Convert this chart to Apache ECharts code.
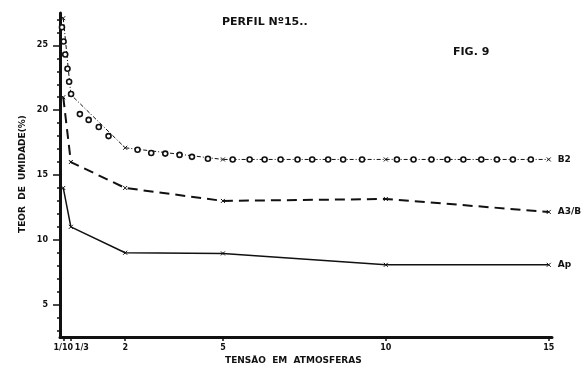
<!DOCTYPE html>
<html>
<head>
<meta charset="utf-8">
<script src="https://cdn.jsdelivr.net/npm/echarts@6/dist/echarts.min.js"></script>
<style>
  html, body { margin: 0; padding: 0; background: #fff; }
  #chart { width: 584px; height: 369px; }
</style>
</head>
<body>
<div id="chart"></div>
<script>
// tensão (atm) where the curves have their points
const tensao = [0.1, 1 / 3, 2, 5, 10, 15]
const tensaoLabels = ["1/10", "1/3", "2", "5", "10", "15"]

// teor de umidade (%)
const b2 = [27.1, 21.2, 17.1, 16.2, 16.2, 16.2]
const a3b = [21.0, 16.0, 14.0, 13.0, 13.15, 12.15]
const ap = [14.0, 11.0, 9.0, 8.95, 8.07, 8.07]

// circles drawn along the B2 curve
const circX = [0.06, 0.11, 0.16, 0.23, 0.28, 0.34, 0.61, 0.88, 1.19, 1.49, 2.38, 2.8, 3.23, 3.67, 4.05, 4.54,
  5.3, 5.82, 6.28, 6.77, 7.29, 7.74, 8.23, 8.69, 9.27, 10.34, 10.85, 11.4, 11.89, 12.38, 12.93, 13.41, 13.9, 14.45]
const circY = [26.4, 25.3, 24.3, 23.2, 22.2, 21.25, 19.7, 19.25, 18.7, 18.0, 16.95, 16.7, 16.65, 16.55, 16.4, 16.25,
  16.2, 16.2, 16.2, 16.2, 16.2, 16.2, 16.2, 16.2, 16.2, 16.2, 16.2, 16.2, 16.2, 16.2, 16.2, 16.2, 16.2, 16.2]

const yLabels = [5, 10, 15, 20, 25]
const yMinor = [3, 4, 6, 7, 8, 9, 11, 12, 13, 14, 16, 17, 18, 19, 21, 22, 23, 24, 26, 27]

const ink = "#111"
const font = "DejaVu Sans"
const cross = "path://M0,0L10,10M10,0L0,10"

const pairs = (xs, ys) => xs.map((x, i) => [x, ys[i]])

const lineSeries = (name, ys, lineStyle) => ({
  name,
  type: "line",
  data: pairs(tensao, ys),
  symbol: cross,
  symbolSize: 4,
  itemStyle: {color: "none", borderColor: ink, borderWidth: 1},
  lineStyle: Object.assign({color: ink}, lineStyle),
  endLabel: {
    show: true,
    formatter: name,
    distance: 9,
    color: ink,
    fontFamily: font,
    fontWeight: "bold",
    fontSize: 9
  },
  z: 3
})

const chart = echarts.init(document.getElementById("chart"))
chart.setOption({
  animation: false,
  backgroundColor: "#fff",
  grid: {left: 60, right: 32, top: 13, bottom: 32},
  xAxis: {
    type: "value",
    min: 0,
    max: 15.1,
    splitLine: {show: false},
    axisLine: {lineStyle: {color: ink, width: 3}},
    axisTick: {customValues: tensao, length: 4, inside: false, lineStyle: {color: ink, width: 1.5}},
    axisLabel: {
      customValues: tensao,
      margin: 7,
      color: ink,
      fontFamily: font,
      fontWeight: "bold",
      fontSize: 8,
      formatter(val) {
        const i = tensao.findIndex(t => Math.abs(t - val) < 1e-6)
        if (i < 0) return ""
        return i === 1 ? "{s|" + tensaoLabels[i] + "}" : tensaoLabels[i]
      },
      rich: {s: {padding: [0, 0, 0, 22], fontFamily: font, fontWeight: "bold", fontSize: 8, color: ink}}
    }
  },
  yAxis: [
    {
      type: "value",
      min: 2.5,
      max: 27.5,
      splitLine: {show: false},
      axisLine: {show: true, lineStyle: {color: ink, width: 3}},
      axisTick: {show: true, customValues: yLabels, length: 7, lineStyle: {color: ink, width: 1.5}},
      axisLabel: {
        customValues: yLabels,
        margin: 12,
        color: ink,
        fontFamily: font,
        fontWeight: "bold",
        fontSize: 8
      }
    },
    {
      type: "value",
      position: "left",
      min: 2.5,
      max: 27.5,
      splitLine: {show: false},
      axisLine: {show: false},
      axisLabel: {show: false},
      axisTick: {show: true, customValues: yMinor, length: 3, lineStyle: {color: ink, width: 1.5}}
    }
  ],
  graphic: [
    {type: "text", left: 222, top: 17,
      style: {text: "PERFIL Nº15..", fill: ink, font: "bold 11px " + font}},
    {type: "text", left: 453, top: 47,
      style: {text: "FIG. 9", fill: ink, font: "bold 11px " + font}},
    {type: "text", left: 225, top: 356,
      style: {text: "TENSÃO  EM  ATMOSFERAS", fill: ink, font: "bold 9px " + font}},
    {type: "text", x: 23, y: 174, rotation: Math.PI / 2,
      style: {text: "TEOR  DE  UMIDADE(%)", fill: ink, font: "bold 9px " + font,
        textAlign: "center", textVerticalAlign: "middle"}}
  ],
  series: [
    lineSeries("B2", b2, {width: 1, type: [4, 2, 1, 2]}),
    lineSeries("A3/B", a3b, {width: 2, type: [10, 6]}),
    lineSeries("Ap", ap, {width: 1.5, type: "solid"}),
    {
      name: "B2 circulos",
      type: "scatter",
      xAxisIndex: 0,
      yAxisIndex: 0,
      data: pairs(circX, circY),
      symbol: "circle",
      symbolSize: 5,
      itemStyle: {color: "#fff", borderColor: ink, borderWidth: 1.6, opacity: 1},
      z: 4
    }
  ]
})
</script>
</body>
</html>
